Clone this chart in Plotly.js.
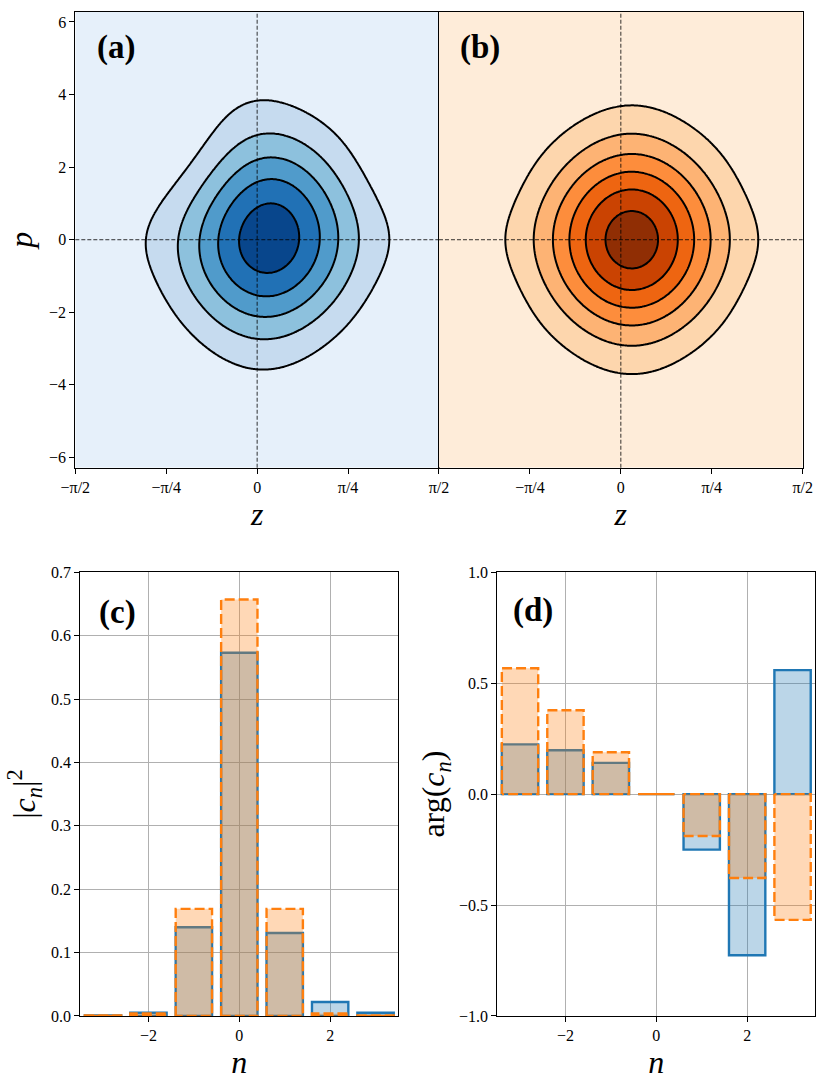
<!DOCTYPE html>
<html><head><meta charset="utf-8">
<script src="https://cdn.plot.ly/plotly-3.0.1.min.js"></script>
<style>html,body{margin:0;padding:0;background:#fff}</style>
</head><body><div id="chart" style="width:817px;height:1083px"></div>
<script>
// ---- data ----
const n = [-3, -2, -1, 0, 1, 2, 3];
const absSqBlue   = [0.001, 0.005, 0.140, 0.573, 0.131, 0.022, 0.005];
const absSqOrange = [0.001, 0.004, 0.169, 0.657, 0.169, 0.004, 0.001];
const argBlue     = [0.224, 0.198, 0.141, 0.000, -0.250, -0.726, 0.559];
const argOrange   = [0.567, 0.378, 0.189, 0.000, -0.189, -0.378, -0.567];
const zTickVals = [-Math.PI/2, -Math.PI/4, 0, Math.PI/4, Math.PI/2];
const zTickText = ['\u2212\u03c0/2', '\u2212\u03c0/4', '0', '\u03c0/4', '\u03c0/2'];
const pTickVals = [-6, -4, -2, 0, 2, 4, 6];
const panelLabels = ['(a)', '(b)', '(c)', '(d)'];

// ---- phase-space (Husimi) map built from the coefficients ----
const W = 2;            // coherent-state width in p
const LEVEL = 0.2686;   // contour spacing
function linspace(a, b, k) { const o = []; for (let i = 0; i < k; i++) o.push(a + (b - a) * i / (k - 1)); return o; }
const zGrid = linspace(-Math.PI/2, Math.PI/2, 241);
const pGrid = linspace(-2*Math.PI, 2*Math.PI, 301);
function husimi(absSq, arg) {
  return pGrid.map(p => zGrid.map(z => {
    let re = 0, im = 0;
    for (let k = 0; k < n.length; k++) {
      const a = Math.sqrt(absSq[k]) * Math.exp(-Math.pow(p - 2*n[k], 2) / (2*W*W));
      const ph = arg[k] + 2*n[k]*z;
      re += a*Math.cos(ph); im += a*Math.sin(ph);
    }
    return re*re + im*im;
  }));
}

const blueScale = [[0,'#e6f0fa'],[0.2,'#c6dbef'],[0.4,'#8dc1dd'],[0.6,'#509bcb'],[0.8,'#2171b5'],[1,'#08468c']];
const orangeScale = [[0,'#feecd9'],[1/6,'#fdd6ad'],[2/6,'#fdb374'],[3/6,'#fd8d3c'],[4/6,'#ee6511'],[5/6,'#ca4302'],[1,'#902e04']];

function contourTrace(absSq, arg, scale, nLines, xa, ya) {
  return {
    type: 'contour', x: zGrid, y: pGrid, z: husimi(absSq, arg),
    xaxis: xa, yaxis: ya, colorscale: scale, showscale: false,
    contours: {start: LEVEL, end: LEVEL*nLines, size: LEVEL, coloring: 'fill', showlines: true},
    line: {color: '#000', width: 2, smoothing: 1}, hoverinfo: 'skip'
  };
}

function dashedBars(vals, xa, ya) {
  const xs = [], ys = [];
  n.forEach((c, i) => {
    const v = vals[i];
    xs.push(c-0.4, c-0.4, c+0.4, c+0.4, c-0.4, null);
    ys.push(0, v, v, 0, 0, null);
  });
  return {type: 'scatter', mode: 'lines', x: xs, y: ys, xaxis: xa, yaxis: ya,
    fill: 'toself', fillcolor: 'rgba(255,127,14,0.3)',
    line: {color: '#ff7f0e', width: 2.4, dash: '10px,4px'}, hoverinfo: 'skip', showlegend: false};
}
function solidBars(vals, xa, ya) {
  return {type: 'bar', x: n, y: vals, width: 0.8, xaxis: xa, yaxis: ya,
    marker: {color: 'rgba(31,119,180,0.3)', line: {color: '#1f77b4', width: 2.4}},
    hoverinfo: 'skip', showlegend: false};
}

const data = [
  contourTrace(absSqBlue, argBlue, blueScale, 5, 'x', 'y'),
  contourTrace(absSqOrange, argOrange, orangeScale, 6, 'x2', 'y2'),
  solidBars(absSqBlue, 'x3', 'y3'),
  dashedBars(absSqOrange, 'x3', 'y3'),
  solidBars(argBlue, 'x4', 'y4'),
  dashedBars(argOrange, 'x4', 'y4')
];

const FONT = 'Liberation Serif, DejaVu Serif, serif';
const tickFont = {family: FONT, size: 16, color: '#000'};
const titleFont = {family: FONT, size: 32, color: '#000'};
const frame = {showline: true, linecolor: '#000', linewidth: 1, mirror: true, ticks: 'outside',
  ticklen: 5, tickwidth: 1, tickcolor: '#000', zeroline: false, tickfont: tickFont};

const layout = {
  width: 817, height: 1083, margin: {l: 0, r: 0, t: 0, b: 0},
  paper_bgcolor: '#fff', plot_bgcolor: '#fff', showlegend: false, barmode: 'overlay',
  font: {family: FONT},
  xaxis: Object.assign({}, frame, {domain: [0.0922, 0.5373], range: [-Math.PI/2, Math.PI/2],
    tickvals: zTickVals, ticktext: zTickText, showgrid: false, anchor: 'y',
    title: {text: '<i>z</i>', font: titleFont, standoff: 6}}),
  yaxis: Object.assign({}, frame, {domain: [0.5681, 0.9892], range: [-2*Math.PI, 2*Math.PI],
    tickvals: pTickVals, showgrid: false, anchor: 'x',
    title: {text: '<i>p</i>', font: titleFont, standoff: 6}}),
  xaxis2: Object.assign({}, frame, {domain: [0.5373, 0.9825], range: [-Math.PI/2, Math.PI/2],
    tickvals: zTickVals.slice(1), ticktext: zTickText.slice(1), showgrid: false, anchor: 'y2',
    title: {text: '<i>z</i>', font: titleFont, standoff: 6}}),
  yaxis2: Object.assign({}, frame, {domain: [0.5681, 0.9892], range: [-2*Math.PI, 2*Math.PI],
    showticklabels: false, ticks: '', showgrid: false, anchor: 'x2'}),
  xaxis3: Object.assign({}, frame, {domain: [0.0983, 0.4875], range: [-3.5, 3.5], tick0: 0, dtick: 2,
    showgrid: true, gridcolor: '#b0b0b0', gridwidth: 1, anchor: 'y3',
    title: {text: '<i>n</i>', font: titleFont, standoff: 6}}),
  yaxis3: Object.assign({}, frame, {domain: [0.0619, 0.4716], range: [0, 0.7], tick0: 0, dtick: 0.1,
    tickformat: '.1f', showgrid: true, gridcolor: '#b0b0b0', gridwidth: 1, anchor: 'x3',
    title: {text: '|<i>c<sub>n</sub></i>|<sup>2</sup>', font: titleFont, standoff: 5}}),
  xaxis4: Object.assign({}, frame, {domain: [0.6087, 0.9979], range: [-3.5, 3.5], tick0: 0, dtick: 2,
    showgrid: true, gridcolor: '#b0b0b0', gridwidth: 1, anchor: 'y4',
    title: {text: '<i>n</i>', font: titleFont, standoff: 6}}),
  yaxis4: Object.assign({}, frame, {domain: [0.0619, 0.4716], range: [-1, 1], tick0: 0, dtick: 0.5,
    tickformat: '.1f', showgrid: true, gridcolor: '#b0b0b0', gridwidth: 1, anchor: 'x4',
    title: {text: 'arg(<i>c<sub>n</sub></i>)', font: titleFont, standoff: 4}}),
  shapes: [
    ['x', 'y'], ['x2', 'y2']
  ].flatMap(([xa, ya]) => [
    {type: 'line', layer: 'above', xref: xa, yref: ya + ' domain', x0: 0, x1: 0, y0: 0, y1: 1,
      line: {color: 'rgba(0,0,0,0.8)', width: 1, dash: '4px,2px'}},
    {type: 'line', layer: 'above', xref: xa + ' domain', yref: ya, x0: 0, x1: 1, y0: 0, y1: 0,
      line: {color: 'rgba(0,0,0,0.8)', width: 1, dash: '4px,2px'}}
  ]),
  annotations: [[0.142, 0.9557], [0.5875, 0.9557], [0.1444, 0.4349], [0.6524, 0.4367]].map((pos, i) => ({
    xref: 'paper', yref: 'paper', x: pos[0], y: pos[1], xanchor: 'center', yanchor: 'middle',
    text: '<b>' + panelLabels[i] + '</b>', showarrow: false, font: {family: FONT, size: 33, color: '#000'}
  }))
};

Plotly.newPlot('chart', data, layout, {staticPlot: true, displayModeBar: false});
</script>
</body></html>
